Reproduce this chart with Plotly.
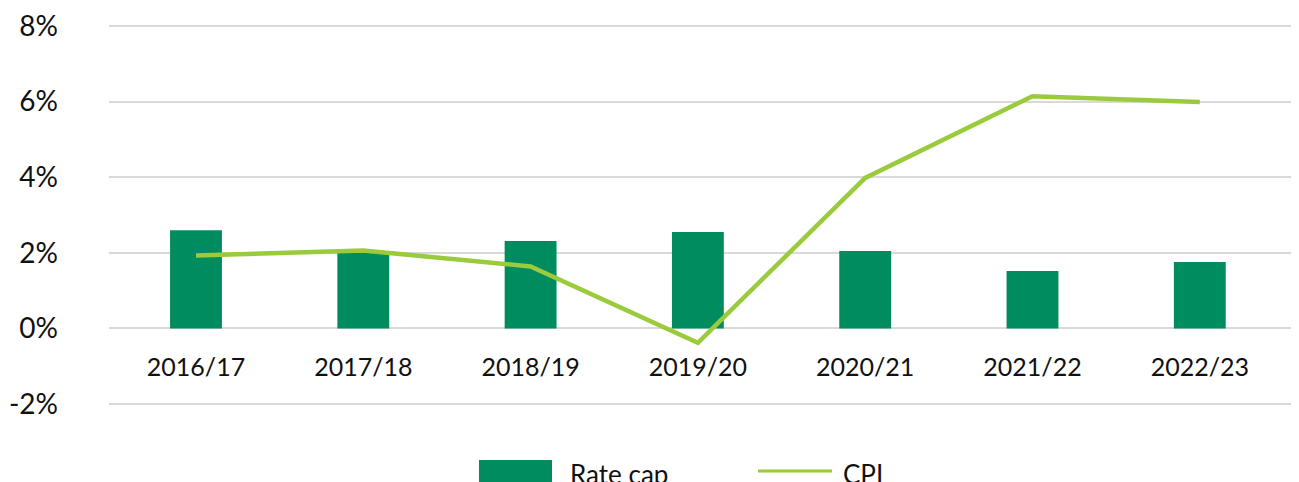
import plotly.graph_objects as go

categories = ["2016/17", "2017/18", "2018/19", "2019/20", "2020/21", "2021/22", "2022/23"]
rate_cap = [2.60, 2.00, 2.31, 2.55, 2.05, 1.52, 1.76]
cpi = [1.93, 2.06, 1.64, -0.38, 3.98, 6.14, 5.99]
series_names = ["Rate cap", "CPI"]
y_ticks = [-2, 0, 2, 4, 6, 8]
y_tick_labels = ["-2%", "0%", "2%", "4%", "6%", "8%"]

BAR_COLOR = "#008C5F"
LINE_COLOR = "#9ACB3C"
FONT = "Lato"
TEXT = "#111111"

fig = go.Figure()
fig.add_trace(go.Bar(x=categories, y=rate_cap, name=series_names[0],
                     marker=dict(color=BAR_COLOR, line=dict(width=0)),
                     width=0.31, showlegend=False))
fig.add_trace(go.Scatter(x=categories, y=cpi, name=series_names[1], mode="lines",
                         line=dict(color=LINE_COLOR, width=4.5), showlegend=False))

# page body has an 8px margin: figure coords = screen coords - 8
OFF = 8
W, H = 1299, 482
ml, mr, mt, mb = 109 - OFF, OFF, 16, 84
fig.update_layout(
    width=W, height=H,
    margin=dict(l=ml, r=mr, t=mt, b=mb, autoexpand=False),
    plot_bgcolor="white", paper_bgcolor="white",
    font=dict(family=FONT, color=TEXT, size=24),
    xaxis=dict(type="category", range=[-0.52, 6.593], anchor="free", automargin=False,
               showgrid=False, showline=False, zeroline=False,
               ticks="", tickfont=dict(size=25, family=FONT, color=TEXT),
               ticklabelstandoff=22, ticklabeloverflow="allow"),
    yaxis=dict(range=[-2.05, 8.05], tickvals=y_ticks, ticktext=y_tick_labels, automargin=False,
               showgrid=True, gridcolor="#D9D9D9", gridwidth=1.5,
               zeroline=False, showline=False, ticks="",
               tickfont=dict(size=28, family=FONT, color=TEXT),
               ticklabelstandoff=50, ticklabeloverflow="allow"),
)
# x axis sits on the 0% line
fig.update_xaxes(position=(0 - (-2.05)) / (8.05 - (-2.05)))

# custom legend (wide swatches like the reference), positions in screen pixels
plot_h = H - mt - mb
plot_w = W - ml - mr
def py(pix):
    return (H - mb - (pix - OFF)) / plot_h
def px(pix):
    return ((pix - OFF) - ml) / plot_w

fig.add_shape(type="rect", xref="paper", yref="paper",
              x0=px(479), x1=px(552), y0=py(460), y1=py(490),
              fillcolor=BAR_COLOR, line=dict(width=0), layer="above")
fig.add_shape(type="line", xref="paper", yref="paper",
              x0=px(758), x1=px(832), y0=py(471), y1=py(471),
              line=dict(color=LINE_COLOR, width=3), layer="above")
fig.add_annotation(xref="paper", yref="paper", x=px(568), y=py(474),
                   text=series_names[0], showarrow=False, xanchor="left", yanchor="middle",
                   font=dict(size=26, family=FONT, color=TEXT))
fig.add_annotation(xref="paper", yref="paper", x=px(841), y=py(474),
                   text=series_names[1], showarrow=False, xanchor="left", yanchor="middle",
                   font=dict(size=26, family=FONT, color=TEXT))

fig.write_html("out.html")
